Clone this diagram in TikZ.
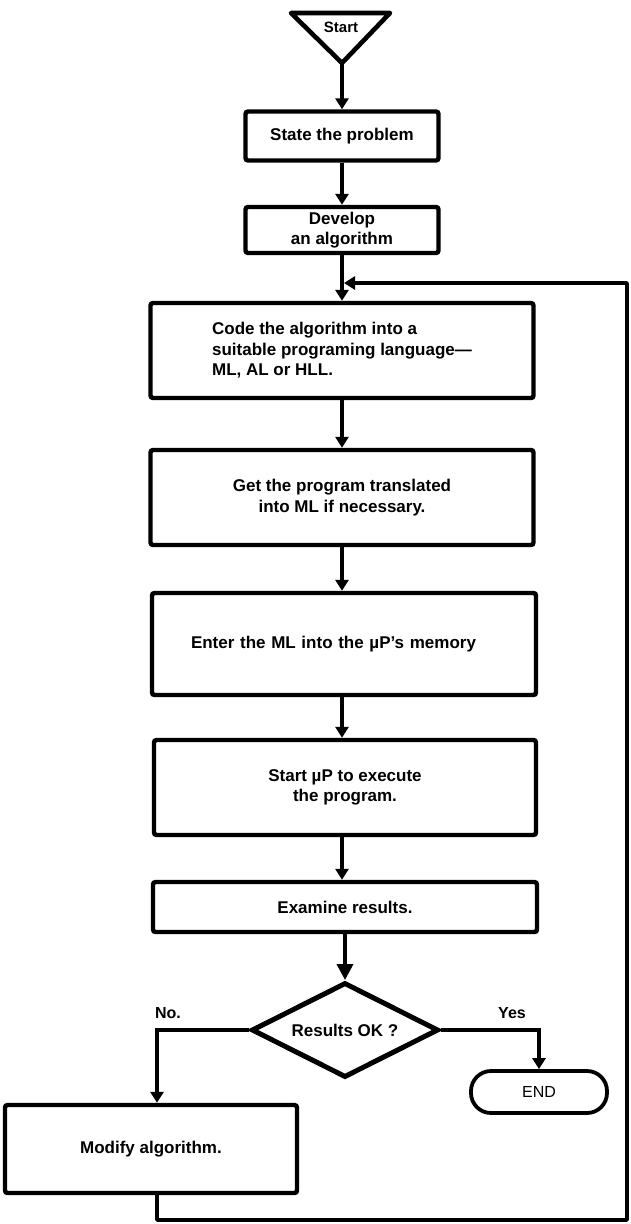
\documentclass[tikz,border=0pt]{standalone}
\usepackage{fontspec}
\setmainfont{Liberation Sans}
\usetikzlibrary{arrows.meta,shapes.geometric,calc}

\begin{document}
\begin{tikzpicture}[x=1pt,y=-1pt,
  every node/.style={font=\bfseries\fontsize{17}{20.5}\selectfont},
  box/.style={draw, rectangle, line width=4.4pt, rounded corners=2.5pt, inner sep=0pt, align=center},
  decision/.style={draw, diamond, line width=5pt, inner sep=0pt, aspect=2},
  terminal/.style={draw, rectangle, rounded corners=20pt, line width=3.8pt, inner sep=0pt},
  flow/.style={line width=3.5pt, -{Triangle[length=11pt,width=13pt]}},
  bigflow/.style={line width=3.6pt, -{Triangle[length=16pt,width=16pt]}},
  edgelabel/.style={font=\bfseries\fontsize{16}{16}\selectfont}
]
\useasboundingbox (0,0) rectangle (630,1224);

% start symbol: downward triangle
\coordinate (tl) at (291,13);
\coordinate (tr) at (390,13);
\coordinate (apex) at (342,63);
\draw[line width=4.6pt, line join=round] (tl) -- (tr) -- (apex) -- cycle;
\node[font=\bfseries\fontsize{15}{15}\selectfont] (startlbl) at (341,27) {Start};

% process boxes
\node[box, minimum width=193pt, minimum height=49pt] (state) at (342,136) {State the problem};
\node[box, minimum width=193pt, minimum height=46pt] (develop) at (342,230) {Develop\\an algorithm};
\node[box, minimum width=383pt, minimum height=95pt, align=left] (code) at (342,350.5)
  {Code the algorithm into a\\suitable programing language—\\ML, AL or HLL.};
\node[box, minimum width=383pt, minimum height=95pt] (translate) at (342,497.5)
  {Get the program translated\\into ML if necessary.};
\node[box, minimum width=384pt, minimum height=102pt, text width=306pt, align=left] (enter) at (344,644)
  {Enter the ML into the µP's memory};
\node[box, minimum width=382pt, minimum height=95pt] (run) at (345,787.5)
  {Start µP to execute\\the program.};
\node[box, minimum width=384pt, minimum height=50pt] (examine) at (345,907)
  {Examine results.};

% decision and outcomes
\node[decision, minimum width=187pt, minimum height=95pt] (check) at (345,1030) {Results OK ?};
\node[terminal, font=\fontsize{16}{16}\selectfont, minimum width=136pt, minimum height=42pt] (finish) at (539,1092) {END};
\node[box, minimum width=292pt, minimum height=88pt] (modify) at (151,1149) {Modify algorithm.};

\node[edgelabel] (nolbl) at (168,1013) {No.};
\node[edgelabel] (yeslbl) at (512,1013) {Yes};

% main flow
\draw[flow] (apex) -- (apex |- state.north);
\draw[flow] (state.south) -- (state.south |- develop.north);
\draw[flow] (develop.south) -- (develop.south |- code.north);
\draw[flow] (code.south) -- (code.south |- translate.north);
\draw[flow] (translate.south) -- (translate.south |- enter.north);
\draw[flow] (enter.south -| translate.south) -- (translate.south |- run.north);
\draw[flow] (run.south -| translate.south) -- (translate.south |- examine.north);
\draw[bigflow] (examine.south -| check.north) -- (check.north);

% branches
\coordinate (nocol) at (157,1220);
\draw[flow] (check.west) -| (modify.north -| nocol);
\draw[flow] (check.east) -| (finish.north);

% loop back to the coding step
\coordinate (retcorner) at (627,1220);
\coordinate (rettop) at (627,283);
\coordinate (merge) at (344,283);
\draw[flow, line join=round] (modify.south -| nocol) -- (nocol) -- (retcorner) -- (rettop) -- (merge);
\end{tikzpicture}
\end{document}
